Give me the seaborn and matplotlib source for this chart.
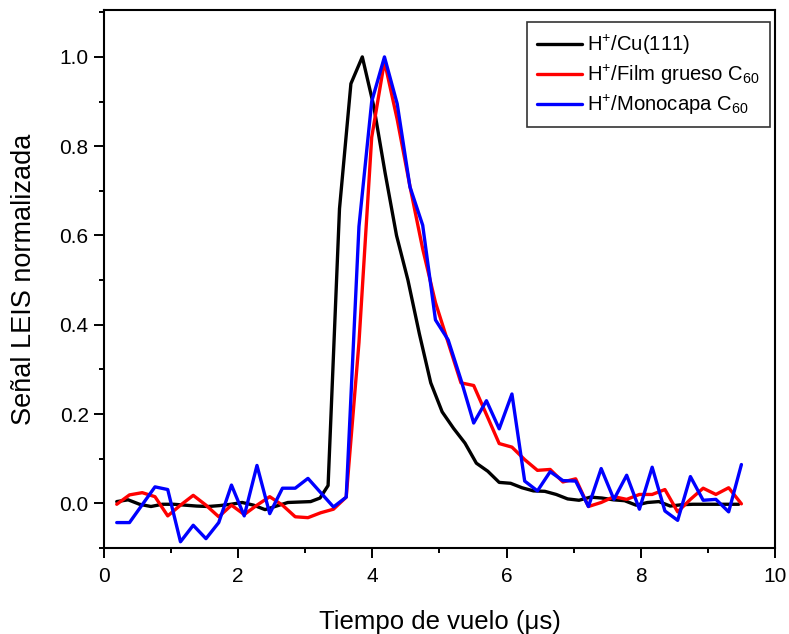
import numpy as np
import pandas as pd
import matplotlib
matplotlib.use("Agg")
import matplotlib.pyplot as plt
import seaborn as sns
from matplotlib.ticker import MultipleLocator

# ---------------- data ----------------
x_cu = [0.19, 0.36, 0.53, 0.70, 0.87, 1.04, 1.21, 1.38, 1.55, 1.72, 1.89, 2.06,
        2.23, 2.40, 2.57, 2.74, 2.91, 3.08, 3.22, 3.34, 3.51, 3.68, 3.85, 4.02,
        4.19, 4.36, 4.53, 4.70, 4.87, 5.04, 5.21, 5.38, 5.55, 5.72, 5.89, 6.06,
        6.23, 6.40, 6.57, 6.74, 6.91, 7.08, 7.25, 7.42, 7.59, 7.76, 7.93, 8.10,
        8.27, 8.44, 8.61, 8.78, 8.95, 9.12, 9.29, 9.46]
y_cu = [0.004, 0.008, -0.002, -0.007, -0.002, -0.002, -0.004, -0.006, -0.007, -0.005,
        -0.002, 0.002, -0.004, -0.014, -0.006, 0.002, 0.003, 0.004, 0.012, 0.040,
        0.660, 0.940, 1.000, 0.890, 0.740, 0.600, 0.500, 0.380, 0.270, 0.205,
        0.168, 0.135, 0.090, 0.072, 0.047, 0.045, 0.035, 0.028, 0.027, 0.020,
        0.010, 0.007, 0.014, 0.012, 0.008, 0.006, -0.004, 0.002, 0.004, -0.006,
        -0.003, -0.002, -0.002, -0.002, -0.002, -0.002]

x_c60 = [0.19, 0.38, 0.57, 0.76, 0.95, 1.14, 1.33, 1.52, 1.71, 1.90, 2.09, 2.28,
         2.47, 2.66, 2.85, 3.04, 3.23, 3.42, 3.61, 3.80, 3.99, 4.18, 4.37, 4.56,
         4.75, 4.94, 5.13, 5.32, 5.51, 5.70, 5.89, 6.08, 6.27, 6.46, 6.65, 6.84,
         7.03, 7.22, 7.41, 7.60, 7.79, 7.98, 8.17, 8.36, 8.55, 8.74, 8.93, 9.12,
         9.31, 9.50]
y_film = [-0.002, 0.019, 0.024, 0.015, -0.028, -0.004, 0.018, -0.004, -0.030, -0.004,
          -0.025, -0.004, 0.015, -0.004, -0.030, -0.032, -0.021, -0.013, 0.014, 0.360,
          0.820, 0.990, 0.860, 0.710, 0.570, 0.450, 0.360, 0.270, 0.264, 0.199,
          0.134, 0.126, 0.098, 0.074, 0.076, 0.048, 0.055, -0.007, 0.002, 0.015,
          0.009, 0.020, 0.020, 0.031, -0.019, 0.009, 0.034, 0.020, 0.035, -0.001]
y_mono = [-0.043, -0.043, -0.003, 0.037, 0.031, -0.086, -0.049, -0.079, -0.043, 0.041,
          -0.028, 0.085, -0.023, 0.034, 0.034, 0.056, 0.024, -0.008, 0.014, 0.620,
          0.900, 1.000, 0.895, 0.709, 0.623, 0.411, 0.366, 0.277, 0.180, 0.230,
          0.167, 0.245, 0.050, 0.028, 0.071, 0.051, 0.050, -0.007, 0.078, 0.009,
          0.063, -0.013, 0.081, -0.017, -0.038, 0.060, 0.007, 0.009, -0.019, 0.087]

labels = [r"H$^{+}$/Cu(111)", r"H$^{+}$/Film grueso C$_{60}$", r"H$^{+}$/Monocapa C$_{60}$"]
colors = ["#000000", "#FF0000", "#0000FF"]
x_ticks = [0, 2, 4, 6, 8, 10]
y_ticks = [0.0, 0.2, 0.4, 0.6, 0.8, 1.0]

# ---------------- style ----------------
sns.set_style("ticks")
plt.rcParams["font.family"] = ["Liberation Sans", "DejaVu Sans"]
plt.rcParams["mathtext.fontset"] = "custom"
plt.rcParams["mathtext.rm"] = "Liberation Sans"
plt.rcParams["mathtext.it"] = "Liberation Sans:italic"
plt.rcParams["mathtext.bf"] = "Liberation Sans:bold"
plt.rcParams["text.color"] = "black"
plt.rcParams["axes.labelcolor"] = "black"
plt.rcParams["xtick.color"] = "black"
plt.rcParams["ytick.color"] = "black"

fig = plt.figure(figsize=(7.89, 6.34), dpi=100)
ax = fig.add_axes([0.1318, 0.1356, 0.8504, 0.8486])

df = pd.concat([
    pd.DataFrame({"x": x_cu, "y": y_cu, "s": labels[0]}),
    pd.DataFrame({"x": x_c60, "y": y_film, "s": labels[1]}),
    pd.DataFrame({"x": x_c60, "y": y_mono, "s": labels[2]}),
], ignore_index=True)

sns.lineplot(data=df, x="x", y="y", hue="s", palette=colors, hue_order=labels,
             sort=False, estimator=None, linewidth=2.4, ax=ax)

ax.set_xlim(0, 10)
ax.set_ylim(-0.1, 1.105)
ax.set_xticks(x_ticks)
ax.set_xticklabels([f"{v:g}" for v in x_ticks])
ax.set_yticks(y_ticks)
ax.set_yticklabels([f"{v:.1f}" for v in y_ticks])
ax.xaxis.set_minor_locator(MultipleLocator(1))
ax.yaxis.set_minor_locator(MultipleLocator(0.1))
ax.tick_params(which="major", direction="out", length=7, width=1.4, labelsize=15,
               top=False, right=False, colors="black")
ax.tick_params(axis="x", which="major", pad=7)
ax.tick_params(axis="y", which="major", pad=4)
ax.tick_params(which="minor", direction="out", length=3.5, width=1.4, top=False,
               right=False, colors="black")
for sp in ax.spines.values():
    sp.set_linewidth(1.5)
    sp.set_color("black")

ax.set_xlabel("Tiempo de vuelo (μs)", fontsize=18.5, labelpad=17, color="black")
ax.set_ylabel("Señal LEIS normalizada", fontsize=19.5, labelpad=16, color="black")

leg = ax.legend(loc="upper right", bbox_to_anchor=(0.9925, 0.9768), borderaxespad=0,
                fontsize=14.6, frameon=True, fancybox=False, edgecolor="black",
                handlelength=2.2, handletextpad=0.25, labelspacing=0.3, borderpad=0.5)
leg.get_frame().set_linewidth(1.2)
for line in leg.get_lines():
    line.set_linewidth(2.4)
for t in leg.get_texts():
    t.set_color("black")

fig.savefig("out.png", dpi=100)
